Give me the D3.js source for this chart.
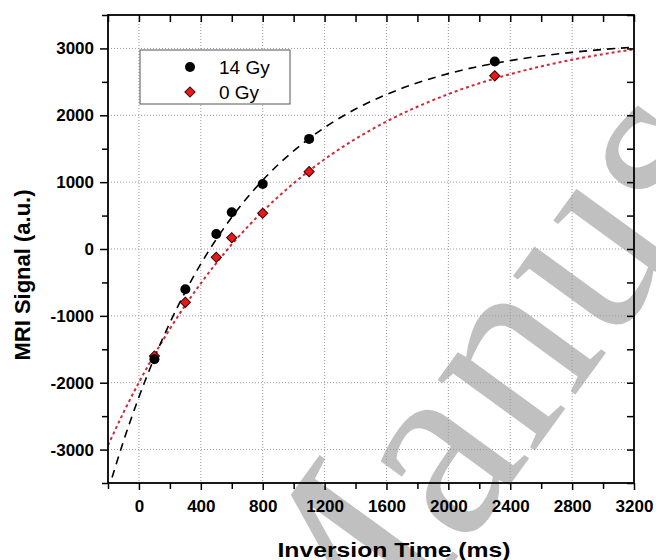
<!DOCTYPE html>
<html>
<head>
<meta charset="utf-8">
<script src="https://cdn.jsdelivr.net/npm/d3@7"></script>
<style>
  body { margin: 0; background: #fff; }
  svg { display: block; }
</style>
</head>
<body>
<div id="graph"></div>
<script>
// measured data points (inversion time in ms, signal in a.u.)
var inversionTimes = [100, 300, 500, 600, 800, 1100, 2300];
var signal14Gy = [-1650, -603, 224, 549, 973, 1647, 2805];
var signal0Gy = [-1600, -798, -124, 169, 534, 1157, 2590];

// fitted recovery curves
var fitTimes = [-200, -100, 0, 100, 200, 300, 400, 500, 600, 800, 1000, 1200, 1400, 1600, 2000, 2400, 2800, 3200];
var fit14Gy = [-3620, -2874, -2214, -1627, -1104, -638, -223, 146, 475, 1029, 1468, 1816, 2093, 2311, 2623, 2818, 2941, 3019];
var fit0Gy = [-2937, -2447, -1996, -1579, -1195, -840, -513, -211, 68, 562, 983, 1342, 1647, 1907, 2317, 2615, 2831, 2987];

// tick values
var xMajor = [0, 400, 800, 1200, 1600, 2000, 2400, 2800, 3200];
var xMinor = [-200, 200, 600, 1000, 1400, 1800, 2200, 2600, 3000];
var yMajor = [-3000, -2000, -1000, 0, 1000, 2000, 3000];
var yMinor = [-3500, -2500, -1500, -500, 500, 1500, 2500, 3500];

var seriesLabels = ["14 Gy", "0 Gy"];

var w = 656;
var h = 560;
var pad_l = 108, pad_r = 634, pad_t = 15, pad_b = 483; // plot frame edges
var font = "'Liberation Sans', Arial, sans-serif";

var svg = d3.select("#graph")
    .append("svg")
    .attr("width", w)
    .attr("height", h);

// watermark, drawn first so that everything sits on top of it
svg.append("text")
    .attr("transform", "translate(326,738) rotate(-54)")
    .attr("font-family", "'Liberation Serif', 'Times New Roman', serif")
    .attr("font-size", 262)
    .attr("fill", "#c0c0c0")
    .text("Manuscript");

var xScale = d3.scaleLinear()
    .domain([-200, 3200])
    .range([pad_l, pad_r]);

var yScale = d3.scaleLinear()
    .domain([-3500, 3500])
    .range([pad_b, pad_t]);

// dotted grid
var grid = svg.append("g");
grid.selectAll(".gx")
    .data(xMajor.filter(function(d) { return d < 3200; }))
    .enter().append("line")
    .attr("x1", function(d) { return xScale(d); })
    .attr("x2", function(d) { return xScale(d); })
    .attr("y1", pad_t)
    .attr("y2", pad_b)
    .attr("stroke", "#9a9a9a")
    .attr("stroke-width", 1)
    .attr("stroke-dasharray", "1,2");

grid.selectAll(".gy")
    .data(yMajor)
    .enter().append("line")
    .attr("x1", pad_l)
    .attr("x2", pad_r)
    .attr("y1", function(d) { return yScale(d); })
    .attr("y2", function(d) { return yScale(d); })
    .attr("stroke", "#9a9a9a")
    .attr("stroke-width", 1)
    .attr("stroke-dasharray", "1,2");

// clip for the fit lines
svg.append("clipPath")
    .attr("id", "plotclip")
    .append("rect")
    .attr("x", pad_l)
    .attr("y", pad_t)
    .attr("width", pad_r - pad_l)
    .attr("height", pad_b - pad_t);

var fitLine = d3.line()
    .x(function(d, i) { return xScale(fitTimes[i]); })
    .y(function(d) { return yScale(d); })
    .curve(d3.curveMonotoneX);

svg.append("path")
    .datum(fit0Gy)
    .attr("clip-path", "url(#plotclip)")
    .attr("d", fitLine)
    .attr("fill", "none")
    .attr("stroke", "#cf2a35")
    .attr("stroke-width", 2)
    .attr("stroke-dasharray", "3,3");

svg.append("path")
    .datum(fit14Gy)
    .attr("clip-path", "url(#plotclip)")
    .attr("d", fitLine)
    .attr("fill", "none")
    .attr("stroke", "#000")
    .attr("stroke-width", 1.6)
    .attr("stroke-dasharray", "8,6");

// red diamonds (0 Gy)
var diamond = d3.symbol().type(d3.symbolSquare).size(52);

svg.selectAll(".dia")
    .data(signal0Gy)
    .enter().append("path")
    .attr("d", diamond)
    .attr("transform", function(d, i) {
        return "translate(" + xScale(inversionTimes[i]) + "," + yScale(d) + ") rotate(45)";
    })
    .attr("fill", "#e8191b")
    .attr("stroke", "#3a0000")
    .attr("stroke-width", 1);

// black circles (14 Gy)
svg.selectAll(".dot")
    .data(signal14Gy)
    .enter().append("circle")
    .attr("cx", function(d, i) { return xScale(inversionTimes[i]); })
    .attr("cy", function(d) { return yScale(d); })
    .attr("r", 5)
    .attr("fill", "#000");

// axes
function styleAxis(g) {
    g.select(".domain").remove();
    g.selectAll("line").attr("stroke", "#000").attr("stroke-width", 1.5);
    g.selectAll("text")
        .attr("font-family", font)
        .attr("font-weight", "bold")
        .attr("font-size", 17)
        .attr("fill", "#000");
}

// plain hyphen for negatives, like the original
var plainNum = function(d) { return String(d); };

svg.append("g")
    .attr("transform", "translate(0," + pad_b + ")")
    .call(d3.axisBottom(xScale).tickValues(xMajor).tickSize(7).tickPadding(10).tickFormat(plainNum))
    .call(styleAxis);
svg.append("g")
    .attr("transform", "translate(0," + pad_b + ")")
    .call(d3.axisBottom(xScale).tickValues(xMinor).tickSize(6).tickFormat(""))
    .call(styleAxis);

svg.append("g")
    .attr("transform", "translate(0," + pad_t + ")")
    .call(d3.axisTop(xScale).tickValues(xMajor.concat(xMinor)).tickSize(-7).tickFormat(""))
    .call(styleAxis);

svg.append("g")
    .attr("transform", "translate(" + pad_l + ",0)")
    .call(d3.axisLeft(yScale).tickValues(yMajor).tickSize(8).tickPadding(6).tickFormat(plainNum))
    .call(styleAxis);
svg.append("g")
    .attr("transform", "translate(" + pad_l + ",0)")
    .call(d3.axisLeft(yScale).tickValues(yMinor).tickSize(6).tickFormat(""))
    .call(styleAxis);

svg.append("g")
    .attr("transform", "translate(" + pad_r + ",0)")
    .call(d3.axisRight(yScale).tickValues(yMajor.concat(yMinor)).tickSize(-7).tickFormat(""))
    .call(styleAxis);

// frame
svg.append("rect")
    .attr("x", pad_l)
    .attr("y", pad_t)
    .attr("width", pad_r - pad_l)
    .attr("height", pad_b - pad_t)
    .attr("fill", "none")
    .attr("stroke", "#000")
    .attr("stroke-width", 1.8);

// axis titles
svg.append("text")
    .attr("x", 394)
    .attr("y", 557)
    .attr("text-anchor", "middle")
    .attr("font-family", font)
    .attr("font-weight", "bold")
    .attr("font-size", 21)
    .attr("textLength", 233)
    .attr("lengthAdjust", "spacingAndGlyphs")
    .text("Inversion Time (ms)");

svg.append("text")
    .attr("transform", "translate(30,275) rotate(-90)")
    .attr("text-anchor", "middle")
    .attr("font-family", font)
    .attr("font-weight", "bold")
    .attr("font-size", 22)
    .text("MRI Signal (a.u.)");

// legend
var legend = svg.append("g");
legend.append("rect")
    .attr("x", 140)
    .attr("y", 50)
    .attr("width", 150)
    .attr("height", 54)
    .attr("fill", "#fff")
    .attr("stroke", "#555")
    .attr("stroke-width", 1);

legend.append("circle")
    .attr("cx", 190)
    .attr("cy", 67)
    .attr("r", 5)
    .attr("fill", "#000");

legend.append("path")
    .attr("d", diamond)
    .attr("transform", "translate(190,92) rotate(45)")
    .attr("fill", "#e8191b")
    .attr("stroke", "#3a0000")
    .attr("stroke-width", 1);

legend.selectAll(".lt")
    .data(seriesLabels)
    .enter().append("text")
    .attr("x", 219)
    .attr("y", function(d, i) { return 74 + i * 25; })
    .attr("font-family", font)
    .attr("font-size", 19)
    .attr("fill", "#000")
    .text(function(d) { return d; });
</script>
</body>
</html>
